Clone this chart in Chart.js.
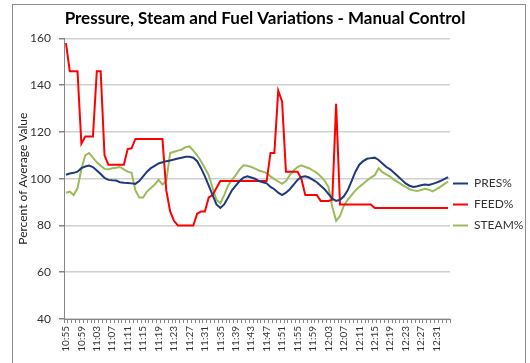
<!DOCTYPE html>
<html>
<head>
<meta charset="utf-8">
<script src="https://cdn.jsdelivr.net/npm/chart.js@4"></script>
<style>
  html, body { margin: 0; padding: 0; background: #fff; overflow: hidden; }
  #frame { position: absolute; left: 12px; top: 4px; width: 512px; height: 362px; border: 1px solid #8c8c8c; border-bottom: none; }
  #chart { position: absolute; left: 0; top: 0; }
</style>
</head>
<body>
<div id="frame"></div>
<canvas id="chart" width="530" height="363"></canvas>
<script>
// One reading per minute, 10:55 - 12:34
const times = [
    "10:55", "10:56", "10:57", "10:58", "10:59",
    "11:00", "11:01", "11:02", "11:03", "11:04", "11:05", "11:06", "11:07", "11:08", "11:09",
    "11:10", "11:11", "11:12", "11:13", "11:14", "11:15", "11:16", "11:17", "11:18", "11:19",
    "11:20", "11:21", "11:22", "11:23", "11:24", "11:25", "11:26", "11:27", "11:28", "11:29",
    "11:30", "11:31", "11:32", "11:33", "11:34", "11:35", "11:36", "11:37", "11:38", "11:39",
    "11:40", "11:41", "11:42", "11:43", "11:44", "11:45", "11:46", "11:47", "11:48", "11:49",
    "11:50", "11:51", "11:52", "11:53", "11:54", "11:55", "11:56", "11:57", "11:58", "11:59",
    "12:00", "12:01", "12:02", "12:03", "12:04", "12:05", "12:06", "12:07", "12:08", "12:09",
    "12:10", "12:11", "12:12", "12:13", "12:14", "12:15", "12:16", "12:17", "12:18", "12:19",
    "12:20", "12:21", "12:22", "12:23", "12:24", "12:25", "12:26", "12:27", "12:28", "12:29",
    "12:30", "12:31", "12:32", "12:33", "12:34"
];

const presPct = [
    101.7, 102.2, 102.5, 103, 104.5, 105.2, 105.6, 105, 103.5, 102,
    100.3, 99.5, 99.3, 99.2, 98.5, 98.3, 98.2, 98, 97.8, 99,
    101, 103, 104.5, 105.5, 106.5, 107, 107.5, 107.8, 108.2, 108.6,
    109, 109.4, 109.4, 109, 107.5, 104.5, 101, 97, 93, 89,
    87.5, 89, 92, 95, 97, 99, 100.5, 101, 100.5, 100,
    99, 98.5, 98, 96.5, 95.5, 94, 93, 94, 95.5, 97.5,
    99.5, 100.7, 101, 100.5, 99.5, 98.5, 97, 95.5, 93.5, 91.5,
    90.5, 91, 92.5, 95, 99, 103, 106, 107.5, 108.5, 108.8,
    109, 108, 106.5, 105, 104, 102.5, 101, 99.5, 98, 97,
    96.5, 96.8, 97.2, 97.5, 97.3, 97.8, 98.3, 99, 99.8, 100.7
];

const feedPct = [
    158, 146, 146, 146, 115, 118, 118, 118, 146, 146,
    110, 106, 106, 106, 106, 106, 112.7, 113, 117, 117,
    117, 117, 117, 117, 117, 117, 95, 86, 82, 80,
    80, 80, 80, 80, 85, 86, 86, 92, 93, 96,
    99, 99, 99, 99, 99, 99, 99, 99, 99, 99,
    99, 99, 99, 111, 111, 137.6, 133, 103, 103, 103,
    103, 100, 93, 93, 93, 93, 90.5, 90.5, 90.5, 91,
    132, 89, 89, 89, 89, 89, 89, 89, 89, 89,
    87.5, 87.5, 87.5, 87.5, 87.5, 87.5, 87.5, 87.5, 87.5, 87.5,
    87.5, 87.5, 87.5, 87.5, 87.5, 87.5, 87.5, 87.5, 87.5, 87.5
];

const steamPct = [
    94, 94.5, 93, 96, 104, 110, 111, 109, 107, 105.5,
    104.2, 104, 104.5, 104.7, 105, 104, 103, 102.5, 95, 92,
    92, 94.5, 96, 97.5, 99.5, 97.5, 99, 111, 111.5, 112,
    112.5, 113.5, 113.8, 112, 110, 107.5, 104.5, 101.5, 96, 91,
    89.5, 93, 97, 99.5, 101.5, 104, 105.7, 105.5, 105, 104.3,
    103.5, 103, 102.4, 101, 99.8, 98.8, 97.8, 99, 101.5, 103.5,
    105, 105.7, 105, 104.5, 103.5, 102.5, 101, 99.2, 96.5, 88,
    82, 84, 88.5, 91, 93, 95, 96.5, 97.8, 99.2, 100.5,
    101.5, 104.5, 102.8, 101.8, 100.9, 99.5, 98.5, 97.5, 96.5, 95.5,
    95, 94.7, 95.2, 95.7, 95.3, 94.6, 95.5, 96.5, 97.7, 98.8
];

Chart.defaults.font.family = "Lato";

// move the legend block next to the plot like in the Excel original
const legendNudge = {
    id: "legendNudge",
    afterLayout(chart) {
        const lg = chart.legend;
        lg.left -= 6; lg.right -= 6;
        lg.top += 23; lg.bottom += 23;
    }
};

new Chart(document.getElementById("chart"), {
    type: "line",
    data: {
        labels: times,
        datasets: [
            { label: "PRES%", data: presPct, borderColor: "#1F3A7A", borderWidth: 2 },
            { label: "FEED%", data: feedPct, borderColor: "#FF0000", borderWidth: 2 },
            { label: "STEAM%", data: steamPct, borderColor: "#9BBB59", borderWidth: 2 }
        ]
    },
    options: {
        responsive: false,
        animation: false,
        elements: { point: { radius: 0 }, line: { tension: 0 } },
        plugins: {
            title: {
                display: true,
                text: "Pressure, Steam and Fuel Variations - Manual Control",
                color: "#000",
                font: { size: 17, weight: "bold" },
                padding: { top: 8, bottom: 10 }
            },
            legend: {
                position: "right",
                maxWidth: 80,
                labels: {
                    usePointStyle: true,
                    pointStyle: "line",
                    pointStyleWidth: 15,
                    padding: 9,
                    color: "#333",
                    font: { size: 12 }
                }
            },
            tooltip: { enabled: false }
        },
        scales: {
            x: {
                offset: true,
                grid: { drawOnChartArea: false, offset: true, tickLength: 4, color: "#868686" },
                border: { color: "#868686" },
                ticks: {
                    autoSkip: false,
                    maxRotation: 90,
                    minRotation: 90,
                    padding: 3,
                    color: "#333",
                    font: { size: 10 },
                    callback: (v, i) => (i % 4 === 0 ? times[i] : "")
                },
                afterFit: s => { s.height = 44; }
            },
            y: {
                min: 40,
                max: 160,
                ticks: { stepSize: 20, padding: 8, color: "#333", font: { size: 12 } },
                grid: { color: "#d0d0d0", lineWidth: 1.5, tickLength: 5, tickColor: "#868686" },
                border: { color: "#868686" },
                title: {
                    display: true,
                    text: "Percent of Average Value",
                    color: "#222",
                    font: { size: 12 },
                    padding: { top: 16 }
                },
                afterFit: s => { s.width = 64; }
            }
        }
    },
    plugins: [legendNudge]
});
</script>
</body>
</html>
